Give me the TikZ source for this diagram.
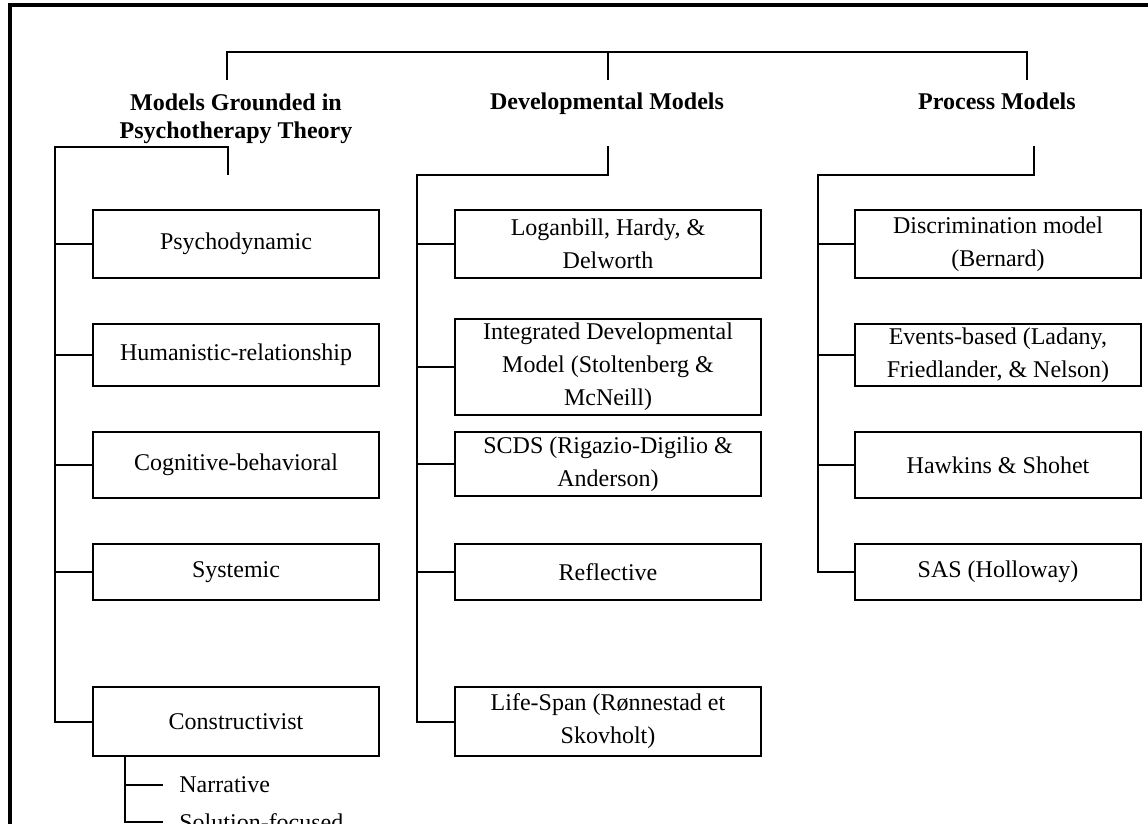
\documentclass[tikz,border=0pt]{standalone}
\usepackage{fontspec}
\setmainfont{Liberation Serif}
\begin{document}
\begin{tikzpicture}[x=0.5pt,y=-0.5pt,
  box/.style={draw,line width=1pt,minimum width=143pt,align=center,inner sep=2pt,
    font=\fontsize{12}{16.5}\selectfont},
  widebox/.style={box,minimum width=153pt},
  head/.style={align=center,inner sep=0pt,font=\fontsize{12}{14}\selectfont\bfseries},
  leaf/.style={anchor=west,inner sep=0pt,font=\fontsize{12}{14}\selectfont},
  link/.style={line width=1pt}]
\useasboundingbox (0,0) rectangle (1148,824);
\clip (0,0) rectangle (1148,824);
% outer frame
\draw[line width=1.6pt] (10,5) rectangle (1180,880);

% column headings
\node[head] (hL) at (236,119) {Models Grounded in\\Psychotherapy Theory};
\node[head,anchor=base] (hM) at (607,110) {Developmental Models};
\node[head,anchor=base] (hR) at (997,110) {Process Models};

% top bracket
\coordinate (tL) at (227,52);
\coordinate (tM) at (608,52);
\coordinate (tR) at (1027,52);
\coordinate (tLd) at (227,80);
\coordinate (tMd) at (608,80);
\coordinate (tRd) at (1027,80);
\draw[link] (tLd) -- (tL) -- (tR) -- (tRd);
\draw[link] (tM) -- (tMd);

% column 1
\node[box,minimum height=34pt] (c1a) at (236,244) {Psychodynamic};
\node[box,minimum height=31pt] (c1b) at (236,355) {Humanistic-relationship};
\node[box,minimum height=33pt] (c1c) at (236,465) {Cognitive-behavioral};
\node[box,minimum height=28pt] (c1d) at (236,572) {Systemic};
\node[box,minimum height=34.5pt] (c1e) at (236,721.5) {Constructivist};
\coordinate (b1top) at (228,175);
\coordinate (b1) at (228,147);
\coordinate (s1) at (55,147);
\draw[link] (b1top) -- (b1) -- (s1) -- (s1 |- c1e.west) -- (c1e.west);
\foreach \n in {c1a,c1b,c1c,c1d} \draw[link] (s1 |- \n.west) -- (\n.west);

% sub-items of Constructivist
\coordinate (sub) at (125,756);
\node[leaf] (nar) at (179,785) {Narrative};
\node[leaf] (sol) at (179,822) {Solution-focused};
\coordinate (nare) at (163,785);
\coordinate (sole) at (163,822);
\draw[link] (sub) -- (sub |- sole) -- (sole);
\draw[link] (sub |- nare) -- (nare);

% column 2
\node[widebox,minimum height=34pt] (c2a) at (608,244) {Loganbill, Hardy, \&\\Delworth};
\node[widebox,minimum height=43pt] (c2b) at (608,367) {Integrated Developmental\\Model (Stoltenberg \&\\McNeill)};
\node[widebox,minimum height=32pt] (c2c) at (608,464) {SCDS (Rigazio-Digilio \&\\Anderson)};
\node[widebox,minimum height=28pt] (c2d) at (608,572) {Reflective};
\node[widebox,minimum height=34.5pt] (c2e) at (608,721.5) {Life-Span (Rønnestad et\\Skovholt)};
\coordinate (b2top) at (608,146);
\coordinate (b2) at (608,175);
\coordinate (s2) at (417,175);
\draw[link] (b2top) -- (b2) -- (s2) -- (s2 |- c2e.west) -- (c2e.west);
\foreach \n in {c2a,c2b,c2c,c2d} \draw[link] (s2 |- \n.west) -- (\n.west);

% column 3
\node[box,minimum height=34pt] (c3a) at (998,244) {Discrimination model\\(Bernard)};
\node[box,minimum height=31pt] (c3b) at (998,355) {Events-based (Ladany,\\Friedlander, \& Nelson)};
\node[box,minimum height=33pt] (c3c) at (998,465) {Hawkins \& Shohet};
\node[box,minimum height=28pt] (c3d) at (998,572) {SAS (Holloway)};
\coordinate (b3top) at (1034,146);
\coordinate (b3) at (1034,175);
\coordinate (s3) at (818,175);
\draw[link] (b3top) -- (b3) -- (s3) -- (s3 |- c3d.west) -- (c3d.west);
\foreach \n in {c3a,c3b,c3c} \draw[link] (s3 |- \n.west) -- (\n.west);
\end{tikzpicture}
\end{document}
